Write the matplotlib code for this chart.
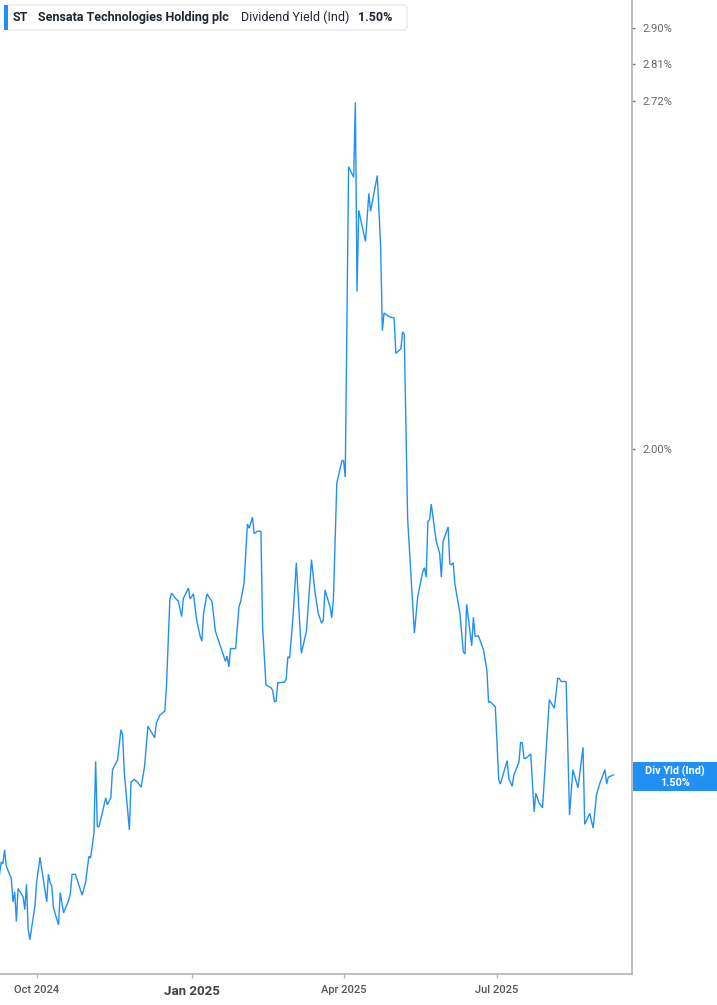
import matplotlib
matplotlib.use('Agg')
import matplotlib.pyplot as plt
import matplotlib.dates as mdates
from matplotlib.ticker import FixedLocator, NullLocator, FixedFormatter
from matplotlib.patches import FancyBboxPatch, Rectangle
import pandas as pd

# ---------------- data ----------------
dates = [
    '2024-09-09', '2024-09-10', '2024-09-11', '2024-09-12', '2024-09-13', '2024-09-16', '2024-09-17',
    '2024-09-18', '2024-09-19', '2024-09-20', '2024-09-23', '2024-09-24', '2024-09-25', '2024-09-26',
    '2024-09-27', '2024-09-30', '2024-10-01', '2024-10-03', '2024-10-05', '2024-10-07', '2024-10-08',
    '2024-10-09', '2024-10-10', '2024-10-11', '2024-10-14', '2024-10-15', '2024-10-17', '2024-10-20',
    '2024-10-21', '2024-10-22', '2024-10-24', '2024-10-28', '2024-10-30', '2024-11-01', '2024-11-02',
    '2024-11-04', '2024-11-05', '2024-11-06', '2024-11-07', '2024-11-09', '2024-11-11', '2024-11-12',
    '2024-11-14', '2024-11-15', '2024-11-18', '2024-11-20', '2024-11-21', '2024-11-22', '2024-11-25',
    '2024-11-26', '2024-11-28', '2024-11-30', '2024-12-02', '2024-12-04', '2024-12-06', '2024-12-10',
    '2024-12-11', '2024-12-13', '2024-12-16', '2024-12-17', '2024-12-19', '2024-12-20', '2024-12-23',
    '2024-12-24', '2024-12-26', '2024-12-27', '2024-12-30', '2024-12-31', '2025-01-02', '2025-01-04',
    '2025-01-06', '2025-01-07', '2025-01-08', '2025-01-10', '2025-01-13', '2025-01-15', '2025-01-21',
    '2025-01-22', '2025-01-23', '2025-01-24', '2025-01-27', '2025-01-29', '2025-01-30', '2025-02-01',
    '2025-02-03', '2025-02-04', '2025-02-06', '2025-02-07', '2025-02-09', '2025-02-11', '2025-02-12',
    '2025-02-14', '2025-02-17', '2025-02-18', '2025-02-19', '2025-02-20', '2025-02-21', '2025-02-25',
    '2025-02-26', '2025-02-27', '2025-02-28', '2025-03-02', '2025-03-04', '2025-03-07', '2025-03-10',
    '2025-03-13', '2025-03-15', '2025-03-17', '2025-03-19', '2025-03-20', '2025-03-21', '2025-03-24',
    '2025-03-25', '2025-03-26', '2025-03-28', '2025-03-31', '2025-04-01', '2025-04-02', '2025-04-04',
    '2025-04-07', '2025-04-08', '2025-04-09', '2025-04-10', '2025-04-14', '2025-04-16', '2025-04-17',
    '2025-04-21', '2025-04-23', '2025-04-24', '2025-04-25', '2025-04-28', '2025-05-01', '2025-05-02',
    '2025-05-05', '2025-05-06', '2025-05-07', '2025-05-09', '2025-05-13', '2025-05-15', '2025-05-18',
    '2025-05-19', '2025-05-20', '2025-05-21', '2025-05-22', '2025-05-23', '2025-05-26', '2025-05-28',
    '2025-05-29', '2025-05-30', '2025-06-02', '2025-06-03', '2025-06-04', '2025-06-05', '2025-06-06',
    '2025-06-09', '2025-06-11', '2025-06-12', '2025-06-13', '2025-06-16', '2025-06-17', '2025-06-18',
    '2025-06-20', '2025-06-23', '2025-06-25', '2025-06-26', '2025-06-27', '2025-06-30', '2025-07-02',
    '2025-07-03', '2025-07-07', '2025-07-08', '2025-07-10', '2025-07-11', '2025-07-14', '2025-07-15',
    '2025-07-16', '2025-07-17', '2025-07-18', '2025-07-21', '2025-07-23', '2025-07-24', '2025-07-26',
    '2025-07-28', '2025-07-30', '2025-08-01', '2025-08-04', '2025-08-06', '2025-08-07', '2025-08-08',
    '2025-08-11', '2025-08-13', '2025-08-15', '2025-08-18', '2025-08-21', '2025-08-22', '2025-08-25',
    '2025-08-27', '2025-08-29', '2025-08-31', '2025-09-03', '2025-09-04', '2025-09-05', '2025-09-08',
]

div_yield = [
    1.374, 1.389, 1.387, 1.404, 1.384, 1.369, 1.341,
    1.353, 1.318, 1.357, 1.347, 1.332, 1.362, 1.309,
    1.297, 1.336, 1.364, 1.395, 1.368, 1.341, 1.374,
    1.364, 1.360, 1.334, 1.314, 1.352, 1.328, 1.343,
    1.351, 1.374, 1.374, 1.349, 1.364, 1.396, 1.394,
    1.425, 1.518, 1.433, 1.433, 1.451, 1.470, 1.461,
    1.470, 1.507, 1.520, 1.561, 1.554, 1.503, 1.429,
    1.491, 1.494, 1.490, 1.484, 1.511, 1.566, 1.550,
    1.570, 1.581, 1.587, 1.622, 1.751, 1.761, 1.751,
    1.749, 1.725, 1.753, 1.769, 1.752, 1.760, 1.718,
    1.695, 1.688, 1.730, 1.760, 1.748, 1.703, 1.658,
    1.666, 1.650, 1.677, 1.677, 1.740, 1.748, 1.777,
    1.872, 1.865, 1.883, 1.856, 1.860, 1.860, 1.710,
    1.624, 1.620, 1.616, 1.600, 1.601, 1.627, 1.628,
    1.633, 1.665, 1.663, 1.723, 1.809, 1.670, 1.703,
    1.814, 1.764, 1.730, 1.715, 1.720, 1.766, 1.740,
    1.723, 1.752, 1.941, 1.979, 1.980, 1.951, 2.566,
    2.542, 2.716, 2.298, 2.469, 2.402, 2.506, 2.467,
    2.546, 2.390, 2.220, 2.255, 2.248, 2.245, 2.176,
    2.185, 2.218, 2.213, 1.881, 1.700, 1.756, 1.795,
    1.801, 1.786, 1.876, 1.879, 1.905, 1.843, 1.824,
    1.786, 1.843, 1.867, 1.807, 1.806, 1.809, 1.776,
    1.730, 1.672, 1.669, 1.744, 1.681, 1.724, 1.695,
    1.696, 1.675, 1.645, 1.599, 1.600, 1.593, 1.494,
    1.488, 1.519, 1.495, 1.485, 1.500, 1.517, 1.544,
    1.543, 1.522, 1.522, 1.528, 1.452, 1.476, 1.463,
    1.457, 1.529, 1.603, 1.591, 1.634, 1.633, 1.629,
    1.629, 1.448, 1.507, 1.483, 1.537, 1.436, 1.450,
    1.431, 1.474, 1.489, 1.507, 1.488, 1.497, 1.500,
]

y_ticks = [2.00, 2.72, 2.81, 2.90]
y_tick_labels = ['2.00%', '2.72%', '2.81%', '2.90%']
x_tick_dates = ['2024-10-01', '2025-01-01', '2025-04-01', '2025-07-01']
x_tick_labels = ['Oct 2024', 'Jan 2025', 'Apr 2025', 'Jul 2025']
ticker_symbol = 'ST'
company_name = 'Sensata Technologies Holding plc'
metric_name = 'Dividend Yield (Ind)'
last_value_text = '1.50%'
badge_title = 'Div Yld (Ind)'

# ---------------- style ----------------
plt.rcParams['font.family'] = ['Roboto', 'DejaVu Sans']
LINE = '#2290f2'
SPINE = '#b4b4b4'
W, H = 717, 1005

fig = plt.figure(figsize=(W / 100, H / 100), dpi=100)
fig.patch.set_facecolor('white')
ax = fig.add_axes([0, 31 / H, 632 / W, 974 / H])

x = pd.to_datetime(dates)
ax.plot(x, div_yield, color=LINE, lw=1.0, solid_joinstyle='miter')

ax.set_yscale('log')
ax.set_ylim(1.2583, 2.9727)
ax.set_xlim(pd.Timestamp('2024-09-09 07:00'), pd.Timestamp('2025-09-19 01:00'))

for s in ['left', 'top']:
    ax.spines[s].set_visible(False)
for s in ['right', 'bottom']:
    ax.spines[s].set_color(SPINE)
    ax.spines[s].set_linewidth(1.2)

ax.yaxis.tick_right()
ax.yaxis.set_major_locator(FixedLocator(y_ticks))
ax.yaxis.set_major_formatter(FixedFormatter(y_tick_labels))
ax.yaxis.set_minor_locator(NullLocator())
ax.tick_params(axis='y', which='major', length=2.5, width=1.0, color='#777777',
               pad=5, labelsize=8, labelcolor='#666666')

ax.set_xticks(pd.to_datetime(x_tick_dates))
ax.set_xticklabels(x_tick_labels)
ax.xaxis.set_minor_locator(NullLocator())
ax.tick_params(axis='x', which='major', length=3, width=1.0, color=SPINE,
               pad=5, labelsize=8, labelcolor='#555555')
for lab in ax.get_xticklabels():
    lab.set_fontweight('medium')
    if lab.get_text().startswith('Jan'):
        lab.set_fontweight('bold')
        lab.set_fontsize(9.5)
        lab.set_color('#444444')

# ---------------- header legend ----------------
def fx(px):
    return px / W

def fy(py):
    return 1 - py / H

box = FancyBboxPatch((fx(4), fy(30)), fx(407) - fx(4), fy(5) - fy(30),
                     boxstyle='round,pad=0,rounding_size=0.004',
                     transform=fig.transFigure, facecolor='white',
                     edgecolor='#e3e3e3', lw=0.8, zorder=5)
fig.patches.append(box)
bar = Rectangle((fx(4), fy(30)), fx(7.5) - fx(4), fy(5) - fy(30),
                transform=fig.transFigure, facecolor=LINE, edgecolor='none', zorder=6)
fig.patches.append(bar)

TXT = '#1f2630'
base_y = fy(21)
LFS = 9.0
fig.text(fx(12.7), base_y, ticker_symbol, fontsize=LFS, fontweight='bold', color=TXT, va='baseline', zorder=7)
fig.text(fx(37.7), base_y, company_name, fontsize=LFS, fontweight='bold', color=TXT, va='baseline', zorder=7)
fig.text(fx(240.7), base_y, metric_name, fontsize=LFS, color=TXT, va='baseline', zorder=7)
fig.text(fx(358.3), base_y, last_value_text, fontsize=LFS, fontweight='bold', color=TXT, va='baseline', zorder=7)

# ---------------- last value badge ----------------
badge = Rectangle((fx(632.5), fy(791)), fx(717) - fx(632.5), fy(762) - fy(791),
                  transform=fig.transFigure, facecolor=LINE, edgecolor='none', zorder=6)
fig.patches.append(badge)
fig.text(fx(675), fy(771), badge_title, fontsize=7.8, fontweight='bold', color='white',
         ha='center', va='center', zorder=7)
fig.text(fx(675), fy(782.5), last_value_text, fontsize=7.8, fontweight='bold', color='white',
         ha='center', va='center', zorder=7)

fig.savefig('out.png', dpi=100, facecolor='white')
